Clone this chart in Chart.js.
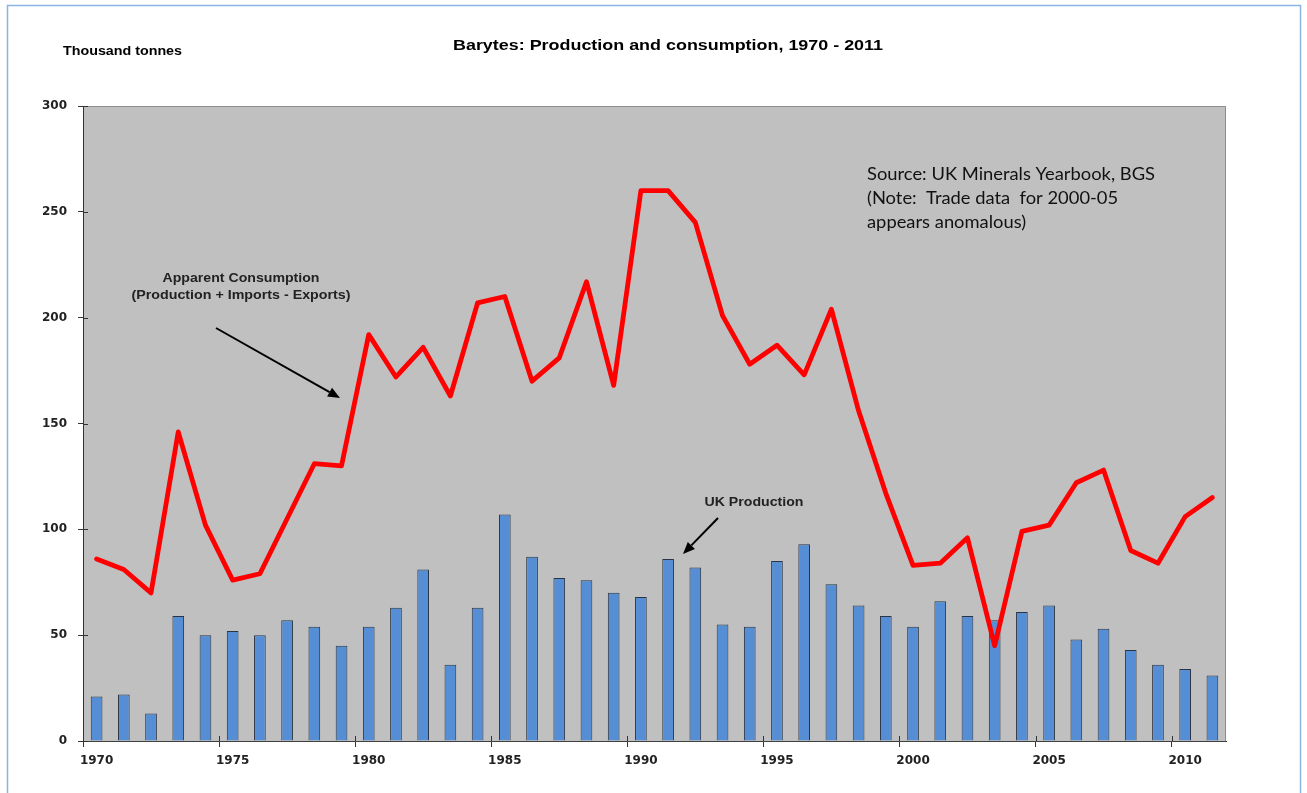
<!DOCTYPE html>
<html><head><meta charset="utf-8">
<script src="https://cdn.jsdelivr.net/npm/chart.js@4/dist/chart.umd.min.js"></script>
<style>html,body{margin:0;padding:0;background:#fff;overflow:hidden}canvas{display:block}</style>
</head><body>
<canvas id="c" width="1307" height="793"></canvas>
<script>
const years = ['1970','1971','1972','1973','1974','1975','1976','1977','1978','1979',
  '1980','1981','1982','1983','1984','1985','1986','1987','1988','1989',
  '1990','1991','1992','1993','1994','1995','1996','1997','1998','1999',
  '2000','2001','2002','2003','2004','2005','2006','2007','2008','2009','2010','2011'];
const ukProduction = [21,22,13,59,50,52,50,57,54,45,54,63,81,36,63,107,87,77,76,70,68,86,82,55,54,85,93,74,64,59,54,66,59,57,61,64,48,53,43,36,34,31];
const apparentConsumption = [86,81,70,146,102,76,79,105,131,130,192,172,186,163,207,210,170,181,217,168,260,260,245,201,178,187,173,204,156,117,83,84,96,45,99,102,122,128,90,84,106,115];
const xTickLabels = ['1970','1975','1980','1985','1990','1995','2000','2005','2010'];
const yTickValues = [0,50,100,150,200,250,300];
const titleText = 'Barytes: Production and consumption, 1970 - 2011';
const unitText = 'Thousand tonnes';
const consumptionNote = ['Apparent Consumption','(Production + Imports - Exports)'];
const productionNote = 'UK Production';
const sourceNote = ['Source: UK Minerals Yearbook, BGS','(Note:  Trade data  for 2000-05','appears anomalous)'];

function fitText(ctx, text, x, y, font, width, align, color, sxFixed) {
  ctx.save();
  ctx.font = font;
  const w = ctx.measureText(text).width;
  const sx = sxFixed || (width / w);
  ctx.translate(x, y); ctx.scale(sx, 1);
  ctx.textAlign = align; ctx.textBaseline = 'middle';
  ctx.fillStyle = color;
  ctx.fillText(text, 0, 0);
  ctx.restore();
  return sx;
}
function arrow(ctx, x1, y1, x2, y2) {
  const ang = Math.atan2(y2 - y1, x2 - x1);
  const hl = 12, hw = 5;
  const bx = x2 - hl * Math.cos(ang), by = y2 - hl * Math.sin(ang);
  ctx.save();
  ctx.strokeStyle = '#000'; ctx.fillStyle = '#000'; ctx.lineWidth = 2;
  ctx.beginPath(); ctx.moveTo(x1, y1); ctx.lineTo(bx, by); ctx.stroke();
  ctx.beginPath(); ctx.moveTo(x2, y2);
  ctx.lineTo(bx + hw * Math.sin(ang), by - hw * Math.cos(ang));
  ctx.lineTo(bx - hw * Math.sin(ang), by + hw * Math.cos(ang));
  ctx.closePath(); ctx.fill();
  ctx.restore();
}

const decor = {
  id: 'decor',
  beforeDraw(chart) {
    const {ctx, chartArea: a} = chart;
    ctx.save();
    ctx.fillStyle = '#fff'; ctx.fillRect(0, 0, chart.width, chart.height);
    ctx.fillStyle = '#C0C0C0'; ctx.fillRect(a.left, a.top, a.right - a.left, a.bottom - a.top);
    ctx.strokeStyle = '#8c8c8c'; ctx.lineWidth = 1;
    ctx.beginPath(); ctx.moveTo(a.left, a.top + 0.5); ctx.lineTo(a.right - 0.5, a.top + 0.5); ctx.lineTo(a.right - 0.5, a.bottom); ctx.stroke();
    ctx.strokeStyle = '#8DB3E2'; ctx.lineWidth = 1.5;
    ctx.strokeRect(7.5, 5.5, 1293, 820);
    ctx.restore();
  },
  afterDraw(chart) {
    const ctx = chart.ctx;
    const a = chart.chartArea;
    // inner halves of the crossing tick marks
    const xs = chart.scales.x, ys = chart.scales.y;
    const half = (xs.getPixelForValue(1) - xs.getPixelForValue(0)) / 2;
    ctx.save();
    ctx.strokeStyle = '#333'; ctx.lineWidth = 1;
    ctx.beginPath();
    years.forEach((y, i) => {
      if (i % 5 === 0 && i > 0) {
        const px = Math.round(xs.getPixelForValue(i) - half) + 0.5;
        ctx.moveTo(px, a.bottom); ctx.lineTo(px, a.bottom - 5);
      }
    });
    yTickValues.forEach(v => {
      const py = Math.round(ys.getPixelForValue(v)) + 0.5;
      ctx.moveTo(a.left, py); ctx.lineTo(a.left + 5, py);
    });
    ctx.stroke();
    ctx.restore();

    fitText(ctx, titleText, 668, 46, 'bold 15px "Liberation Sans", Arial, sans-serif', 430, 'center', '#000');
    fitText(ctx, unitText, 63, 52, 'bold 12px "Liberation Sans", Arial, sans-serif', 119, 'left', '#000');
    fitText(ctx, consumptionNote[0], 241, 279, 'bold 12px "Liberation Sans", Arial, sans-serif', 157, 'center', '#222');
    fitText(ctx, consumptionNote[1], 241, 296, 'bold 12px "Liberation Sans", Arial, sans-serif', 219, 'center', '#222');
    fitText(ctx, productionNote, 754, 503, 'bold 12px "Liberation Sans", Arial, sans-serif', 99, 'center', '#222');
    const sx = fitText(ctx, sourceNote[0], 867, 175, '17px Lato, "Open Sans", sans-serif', 288, 'left', '#111');
    fitText(ctx, sourceNote[1], 867, 199, '17px Lato, "Open Sans", sans-serif', 0, 'left', '#111', sx);
    fitText(ctx, sourceNote[2], 867, 223, '17px Lato, "Open Sans", sans-serif', 0, 'left', '#111', sx);
    arrow(ctx, 216, 328, 340, 398);
    arrow(ctx, 718, 518, 683, 554);
  }
};

new Chart(document.getElementById('c'), {
  data: {
    labels: years,
    datasets: [
      {
        type: 'line', label: 'Apparent Consumption', data: apparentConsumption,
        borderColor: '#FF0000', borderWidth: 4.8, pointRadius: 0, tension: 0,
        borderJoinStyle: 'round', borderCapStyle: 'round', order: 0
      },
      {
        type: 'bar', label: 'UK Production', data: ukProduction,
        backgroundColor: '#558ED5', borderColor: '#2a3442', borderWidth: 1,
        barPercentage: 0.43, categoryPercentage: 1.0, order: 1
      }
    ]
  },
  options: {
    responsive: false, animation: false, devicePixelRatio: 1,
    layout: { padding: { left: 0, top: 106, right: 81, bottom: 0 } },
    plugins: { legend: { display: false }, title: { display: false }, tooltip: { enabled: false } },
    scales: {
      x: {
        type: 'category', offset: true,
        afterFit(s) { s.height = 52; },
        grid: {
          display: true, drawOnChartArea: false, offset: true, tickLength: 6,
          tickColor: (c) => (c.index % 5 === 0 ? '#333' : 'rgba(0,0,0,0)'), tickWidth: 1
        },
        border: { display: true, color: '#404040', width: 1 },
        ticks: {
          autoSkip: false, maxRotation: 0, minRotation: 0, padding: 7, color: '#222',
          font: { family: '"DejaVu Sans", Verdana, sans-serif', size: 12, weight: 'bold' },
          callback(v, i) { const l = years[i]; return xTickLabels.includes(l) ? l : ''; }
        }
      },
      y: {
        min: 0, max: 300,
        afterFit(s) { s.width = 83; },
        afterBuildTicks(s) { s.ticks = yTickValues.map(v => ({ value: v })); },
        grid: { display: true, drawOnChartArea: false, tickLength: 5, tickColor: '#333' },
        border: { display: true, color: '#333', width: 1 },
        ticks: {
          padding: 11, color: '#222',
          font: { family: '"DejaVu Sans", Verdana, sans-serif', size: 12, weight: 'bold' }
        }
      }
    }
  },
  plugins: [decor]
});
</script>
</body></html>
